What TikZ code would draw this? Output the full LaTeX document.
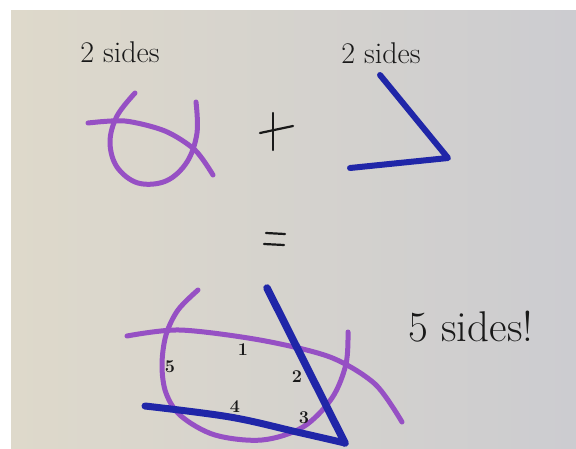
\documentclass[tikz,border=0pt]{standalone}
\usetikzlibrary{calc}
\definecolor{paperL}{RGB}{222,217,203}
\definecolor{paperR}{RGB}{204,204,208}
\definecolor{pen}{RGB}{25,25,25}
\definecolor{violet}{RGB}{150,80,196}
\definecolor{ink}{RGB}{32,38,168}
\tikzset{
  stroke/.style={line cap=round, line join=round},
  purplepen/.style={stroke, draw=violet, line width=5pt},
  bluepen/.style={stroke, draw=ink, line width=6.5pt},
  blackpen/.style={stroke, draw=pen, line width=2.2pt},
  label/.style={text=pen, inner sep=0pt, font=\fontsize{30}{30}\selectfont},
  big/.style={text=pen, inner sep=0pt, font=\fontsize{43}{43}\selectfont},
  num/.style={text=pen, inner sep=0pt, font=\bfseries\fontsize{18}{18}\selectfont}
}
\begin{document}
\begin{tikzpicture}[x=1pt,y=-1pt]
\useasboundingbox (0,0) rectangle (576,448);
\fill[white] (0,0) rectangle (576,448);
\shade[left color=paperL, right color=paperR] (11,10) rectangle (576,448);

% labels
\node[label, anchor=base] (t1) at (120,62) {2 sides};
\node[label, anchor=base] (t2) at (381,63) {2 sides};
\node[big, anchor=base] (t3) at (471,341) {5 sides!};

% top-left purple figure
\draw[purplepen] plot[smooth, tension=0.6] coordinates
  {(135,93) (117,116) (110,142) (117,167) (138,183) (166,181) (187,162) (197,133) (196,102)};
\draw[purplepen] plot[smooth, tension=0.5] coordinates
  {(88,123) (125,121) (165,131) (195,150) (213,175)};

% plus
\draw[blackpen] (273,113) -- (273,150);
\draw[blackpen] (260,133) -- (293,126);

% top-right blue angle
\coordinate (a1) at (380,75);
\coordinate (a2) at (448,158);
\coordinate (a3) at (350,168);
\draw[bluepen, line width=6pt] (a1) -- (a2) -- (a3);

% equals
\draw[blackpen] (266,233) -- (285,234);
\draw[blackpen] (264,244) -- (284,245);

% bottom combined figure
\draw[purplepen] plot[smooth, tension=0.55] coordinates
  {(198,290) (178,310) (166,335) (162,365) (166,393) (181,416) (215,435) (262,440) (303,427) (332,398) (346,364) (348,332)};
\draw[purplepen] plot[smooth, tension=0.5] coordinates
  {(127,336) (180,330) (260,340) (330,357) (375,384) (402,422)};
\coordinate (b1) at (267,288);
\coordinate (b2) at (345,443);
\coordinate (b3) at (145,406);
\draw[bluepen, line width=7.5pt] (b1) -- (b2);
\draw[bluepen, line width=7pt] plot[smooth, tension=0.6] coordinates
  {(b3) (230,417) (297,432) (b2)};

% side numbers
\node[num] (n1) at (243,350) {1};
\node[num] (n2) at (297,377) {2};
\node[num] (n3) at (304,418) {3};
\node[num] (n4) at (235,407) {4};
\node[num] (n5) at (170,367) {5};
\end{tikzpicture}
\end{document}
